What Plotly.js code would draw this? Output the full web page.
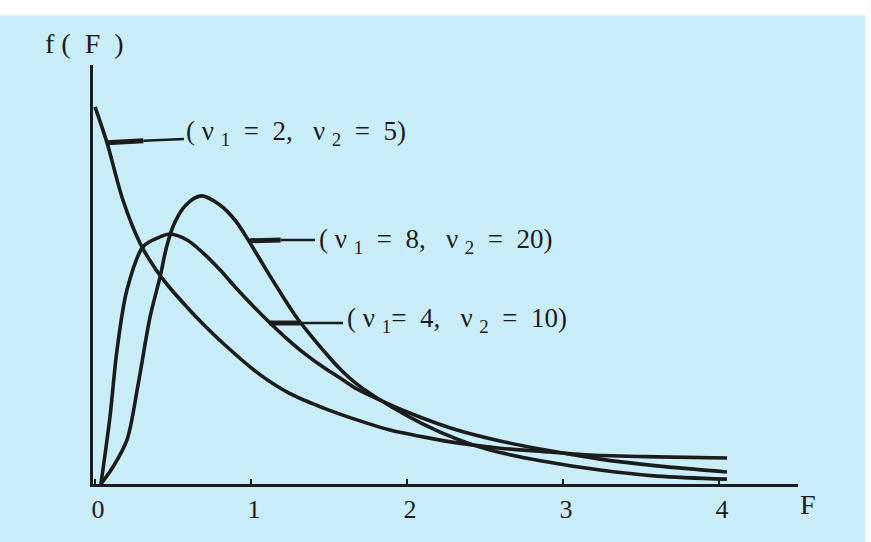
<!DOCTYPE html>
<html>
<head>
<meta charset="utf-8">
<script src="https://cdn.plot.ly/plotly-3.0.1.min.js"></script>
<style>
html,body{margin:0;padding:0;background:#c9eef9;}
#chart{width:871px;height:542px;}
</style>
</head>
<body>
<div id="chart"></div>
<script>
// F-distribution density curves
const F_2_5 = [0, 0.077, 0.179, 0.288, 0.391, 0.474, 0.583, 0.686, 0.840, 1.051, 1.244, 1.462, 1.679, 1.891, 2.103, 2.321, 2.596, 2.917, 3.173, 3.603, 4.051];
const f_2_5 = [1.0, 0.905, 0.753, 0.639, 0.568, 0.523, 0.472, 0.427, 0.366, 0.292, 0.241, 0.202, 0.170, 0.143, 0.125, 0.109, 0.095, 0.085, 0.077, 0.072, 0.069];

const F_8_20 = [0.038, 0.115, 0.205, 0.276, 0.353, 0.417, 0.462, 0.513, 0.583, 0.679, 0.801, 0.897, 0.994, 1.090, 1.186, 1.295, 1.397, 1.462, 1.571, 1.679, 1.891, 2.103, 2.321, 2.532, 2.865, 3.237, 3.603, 4.051];
const f_8_20 = [0, 0.045, 0.117, 0.263, 0.443, 0.549, 0.634, 0.695, 0.740, 0.764, 0.740, 0.700, 0.639, 0.573, 0.509, 0.440, 0.387, 0.355, 0.305, 0.265, 0.207, 0.159, 0.119, 0.090, 0.061, 0.037, 0.021, 0.013];

const F_4_10 = [0.038, 0.096, 0.141, 0.205, 0.308, 0.417, 0.481, 0.590, 0.692, 0.801, 0.910, 1.013, 1.122, 1.231, 1.346, 1.462, 1.571, 1.679, 1.782, 2.0, 2.321, 2.596, 2.917, 3.237, 3.603, 4.051];
const f_4_10 = [0, 0.178, 0.355, 0.515, 0.629, 0.655, 0.663, 0.647, 0.613, 0.568, 0.517, 0.472, 0.427, 0.385, 0.345, 0.310, 0.281, 0.252, 0.231, 0.191, 0.143, 0.114, 0.088, 0.066, 0.048, 0.032];

const tickVals = [0, 1, 2, 3, 4];
const tickText = ['0', '1', '2', '3', '4'];

const NB = '\u00a0';
const curveLabels = [
  '(' + NB + 'ν' + NB + '<sub>1</sub>' + NB + NB + '=' + NB + NB + '2,' + NB + NB + NB + 'ν' + NB + '<sub>2</sub>' + NB + NB + '=' + NB + NB + '5)',
  '(' + NB + 'ν' + NB + '<sub>1</sub>' + NB + NB + '=' + NB + NB + '8,' + NB + NB + NB + 'ν' + NB + '<sub>2</sub>' + NB + NB + '=' + NB + NB + '20)',
  '(' + NB + 'ν' + NB + '<sub>1</sub>=' + NB + NB + '4,' + NB + NB + NB + 'ν' + NB + '<sub>2</sub>' + NB + NB + '=' + NB + NB + '10)'
];

const ink = '#1c1c1c';
const serif = 'Liberation Serif, Times New Roman, serif';

function curve(x, y) {
  return {x: x, y: y, type: 'scatter', mode: 'lines',
    line: {color: ink, width: 3.6, shape: 'spline', smoothing: 0.9},
    hoverinfo: 'skip', showlegend: false};
}

const data = [curve(F_2_5, f_2_5), curve(F_8_20, f_8_20), curve(F_4_10, f_4_10)];

function seg(x0, x1, y0, y1, w) {
  return {type: 'line', xref: 'x', yref: 'y', x0: x0, x1: x1, y0: y0, y1: y1,
    line: {color: ink, width: w}};
}

const shapes = [
  // white scan border strips
  {type: 'rect', xref: 'paper', yref: 'paper', x0: -0.2, x1: 1.2, y0: 1.119, y1: 1.2,
   fillcolor: '#ffffff', line: {width: 0}, layer: 'below'},
  {type: 'rect', xref: 'paper', yref: 'paper', x0: 1.095, x1: 1.2, y0: -0.2, y1: 1.2,
   fillcolor: '#fbfdfd', line: {width: 0}, layer: 'below'},
  // pointer lines
  seg(0.077, 0.31, 0.905, 0.91, 5), seg(0.31, 0.57, 0.91, 0.915, 2.5),
  seg(0.99, 1.19, 0.645, 0.647, 5), seg(1.19, 1.41, 0.647, 0.647, 2.5),
  seg(1.115, 1.32, 0.427, 0.427, 5), seg(1.32, 1.59, 0.427, 0.427, 2.5)
];

const annotations = [
  {text: curveLabels[0], x: 0.57, y: 0.931, xanchor: 'left', yanchor: 'middle'},
  {text: curveLabels[1], x: 1.42, y: 0.645, xanchor: 'left', yanchor: 'middle'},
  {text: curveLabels[2], x: 1.605, y: 0.435, xanchor: 'left', yanchor: 'middle'}
].map(a => Object.assign({xref: 'x', yref: 'y', showarrow: false,
  font: {family: serif, size: 27, color: ink}}, a));

annotations.push({xref: 'paper', yref: 'paper', x: -0.071, y: 1.052, xanchor: 'left', yanchor: 'middle',
  text: 'f' + NB + '(\u2002F\u2002)', showarrow: false, font: {family: serif, size: 28, color: ink}});
annotations.push({xref: 'paper', yref: 'paper', x: 1.0, y: -0.05, xanchor: 'left', yanchor: 'middle',
  text: 'F', showarrow: false, font: {family: serif, size: 28, color: ink}});

const layout = {
  width: 871, height: 542,
  margin: {l: 93, r: 73, t: 65, b: 58, pad: 0},
  paper_bgcolor: '#c9eef9', plot_bgcolor: '#c9eef9',
  showlegend: false,
  xaxis: {range: [-0.0128, 4.506], showgrid: false, zeroline: false,
    showline: true, linecolor: ink, linewidth: 3,
    tickmode: 'array', tickvals: tickVals, ticktext: tickText,
    ticks: 'inside', ticklen: 5, tickwidth: 2, tickcolor: ink,
    ticklabelshift: 3,
    tickfont: {family: serif, size: 26, color: ink}, fixedrange: true},
  yaxis: {range: [0, 1.111], showgrid: false, zeroline: false,
    showline: true, linecolor: ink, linewidth: 3,
    showticklabels: false, ticks: '', fixedrange: true},
  shapes: shapes,
  annotations: annotations
};

Plotly.newPlot('chart', data, layout, {staticPlot: true, displayModeBar: false});
</script>
</body>
</html>
